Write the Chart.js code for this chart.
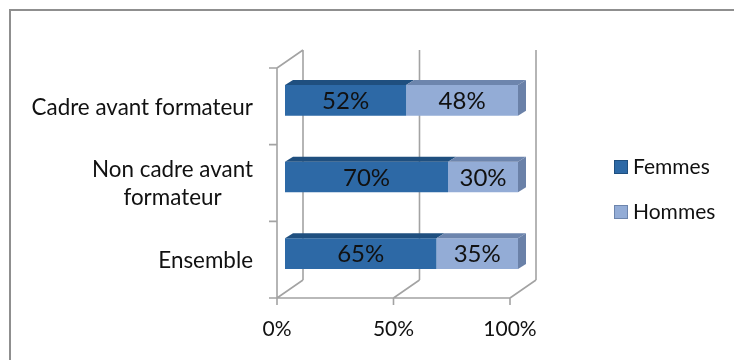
<!DOCTYPE html>
<html>
<head>
<meta charset="utf-8">
<script src="https://cdn.jsdelivr.net/npm/chart.js@4"></script>
<style>
  body { margin: 0; background: #fff; overflow: hidden; }
  #frame { position: absolute; left: 9px; top: 9px; width: 800px; height: 400px;
           border-left: 2px solid #8f8f8f; border-top: 2px solid #8f8f8f; }
  #c { position: absolute; left: 0; top: 0; }
</style>
</head>
<body>
<div id="frame"></div>
<canvas id="c" width="734" height="360"></canvas>
<script>
// data
var categories = ['Cadre avant formateur', ['Non cadre avant', 'formateur'], 'Ensemble'];
var femmes = [52, 70, 65];
var hommes = [48, 30, 35];
var xTicks = [0, 50, 100];

var FONT = 'Lato, "Open Sans", sans-serif';
var FRONT = {dx: -8, dy: 6};   // floor / axis plane relative to bar faces
var BACK = {dx: 18, dy: -12};  // back wall
var BAR = {dx: 8, dy: -5};     // depth of the bars

var tops = ['#1f4f7f', '#6d85ad'];
var ends = ['#1f4f7f', '#6a81a8'];

var threeD = {
  id: 'threeD',
  beforeDatasetsDraw: function(chart) {
    var ctx = chart.ctx, a = chart.chartArea;
    var x = chart.scales.x, y = chart.scales.y;
    function line(x1, y1, x2, y2) { ctx.moveTo(x1, y1); ctx.lineTo(x2, y2); }
    ctx.save();
    ctx.strokeStyle = '#a3a3a3';
    ctx.lineWidth = 1.6;
    ctx.beginPath();
    var x0 = x.getPixelForValue(0), x1 = x.getPixelForValue(100);
    xTicks.forEach(function(v) {
      var px = x.getPixelForValue(v);
      line(px + BACK.dx, a.top + BACK.dy, px + BACK.dx, a.bottom + BACK.dy);
      line(px + FRONT.dx, a.bottom + FRONT.dy, px + BACK.dx, a.bottom + BACK.dy);
      line(px + FRONT.dx, a.bottom + FRONT.dy, px + FRONT.dx, a.bottom + FRONT.dy + 7);
    });
    line(x0 + FRONT.dx - 8, a.bottom + FRONT.dy, x1 + FRONT.dx, a.bottom + FRONT.dy);
    line(x0 + FRONT.dx, a.top + FRONT.dy, x0 + FRONT.dx, a.bottom + FRONT.dy);
    line(x0 + FRONT.dx, a.top + FRONT.dy, x0 + BACK.dx, a.top + BACK.dy);
    for (var i = 0; i < categories.length; i++) {
      var py = y.getPixelForValue(i - 0.5) + FRONT.dy;
      line(x0 + FRONT.dx - 8, py, x0 + FRONT.dx, py);
    }
    ctx.stroke();

    // tick labels
    ctx.fillStyle = '#111';
    ctx.font = '21px ' + FONT;
    ctx.textAlign = 'center';
    ctx.textBaseline = 'middle';
    xTicks.forEach(function(v) {
      ctx.fillText(v + '%', x.getPixelForValue(v) + FRONT.dx, a.bottom + FRONT.dy + 31);
    });
    ctx.font = '22.4px ' + FONT;
    categories.forEach(function(c, i) {
      var lines = Array.isArray(c) ? c : [c];
      var cy = y.getPixelForValue(i) + FRONT.dy + 1;
      var right = x0 + FRONT.dx - 24;
      var widest = Math.max.apply(null, lines.map(function(s) { return ctx.measureText(s).width; }));
      lines.forEach(function(s, k) {
        var ly = cy + (k - (lines.length - 1) / 2) * 28;
        ctx.textAlign = 'center';
        ctx.fillText(s, right - widest / 2, ly);
      });
    });
    ctx.restore();
  },
  afterDatasetsDraw: function(chart) {
    var ctx = chart.ctx;
    ctx.save();
    chart.data.datasets.forEach(function(ds, di) {
      var meta = chart.getDatasetMeta(di);
      meta.data.forEach(function(el, j) {
        var l = Math.min(el.base, el.x), r = Math.max(el.base, el.x);
        var t = el.y - el.height / 2, b = el.y + el.height / 2;
        // top face
        ctx.fillStyle = tops[di];
        ctx.beginPath();
        ctx.moveTo(l, t); ctx.lineTo(r, t);
        ctx.lineTo(r + BAR.dx, t + BAR.dy); ctx.lineTo(l + BAR.dx, t + BAR.dy);
        ctx.closePath(); ctx.fill();
        // end face on the last segment
        if (di === chart.data.datasets.length - 1) {
          ctx.fillStyle = ends[di];
          ctx.beginPath();
          ctx.moveTo(r, t); ctx.lineTo(r + BAR.dx, t + BAR.dy);
          ctx.lineTo(r + BAR.dx, b + BAR.dy); ctx.lineTo(r, b);
          ctx.closePath(); ctx.fill();
        }
        // label
        ctx.fillStyle = '#111';
        ctx.font = '24px ' + FONT;
        ctx.textAlign = 'center';
        ctx.textBaseline = 'middle';
        ctx.fillText(ds.data[j] + '%', (l + r) / 2, el.y + 1);
      });
    });

    // legend
    var a = chart.chartArea;
    ctx.font = '21px ' + FONT;
    ctx.textAlign = 'left';
    ctx.textBaseline = 'middle';
    chart.data.datasets.forEach(function(ds, di) {
      var ly = 167 + di * 45;
      var lx = a.right + 96;
      ctx.fillStyle = ds.backgroundColor;
      ctx.fillRect(lx, ly - 7, 14, 14);
      ctx.strokeStyle = tops[di];
      ctx.lineWidth = 1;
      ctx.strokeRect(lx + 0.5, ly - 6.5, 13, 13);
      ctx.fillStyle = '#111';
      ctx.fillText(ds.label, lx + 19, ly);
    });
    ctx.restore();
  }
};

new Chart(document.getElementById('c'), {
  type: 'bar',
  data: {
    labels: categories,
    datasets: [
      { label: 'Femmes', data: femmes, backgroundColor: '#2d69a6' },
      { label: 'Hommes', data: hommes, backgroundColor: '#93acd6' }
    ]
  },
  options: {
    indexAxis: 'y',
    responsive: false,
    animation: false,
    devicePixelRatio: 1,
    layout: { padding: { left: 285, right: 216, top: 62, bottom: 68 } },
    scales: {
      x: { stacked: true, min: 0, max: 100, display: false },
      y: { stacked: true, display: false }
    },
    datasets: { bar: { categoryPercentage: 1, barPercentage: 0.4 } },
    plugins: { legend: { display: false }, tooltip: { enabled: false } }
  },
  plugins: [threeD]
});
</script>
</body>
</html>
